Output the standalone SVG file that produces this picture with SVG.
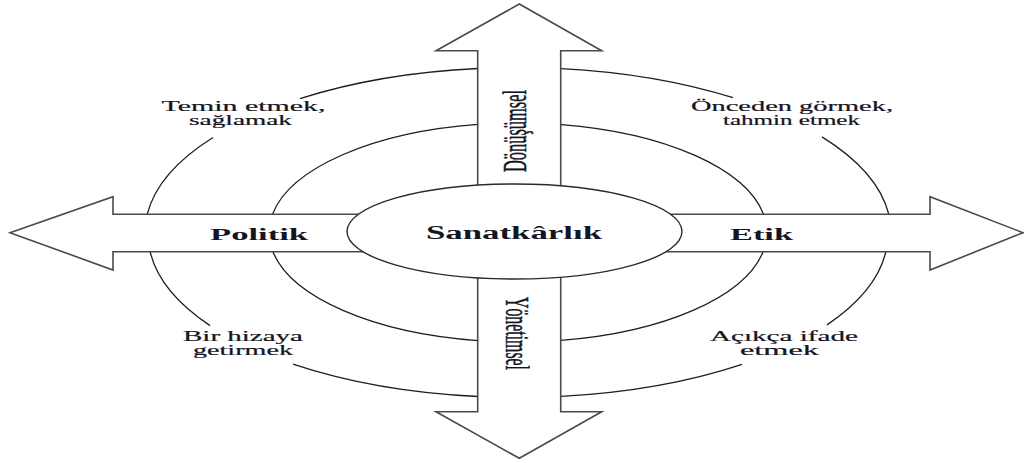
<svg xmlns="http://www.w3.org/2000/svg" width="1024" height="463" viewBox="0 0 1024 463">
<style>
.ring{fill:none;stroke:#1e1e1e;stroke-width:1.3}
.arrow{fill:#fff;stroke:#4a4a4a;stroke-width:1.6;stroke-linejoin:miter}
.core{fill:#fff;stroke:#2a2a2a;stroke-width:1.4}
.lbl{font-family:"Liberation Serif","Times New Roman",serif;font-size:14.5px;fill:#15151f;stroke:#15151f;stroke-width:0.2}
.bold{font-family:"Liberation Serif","Times New Roman",serif;font-weight:bold;fill:#15151f}
.vert{font-family:"Liberation Serif","Times New Roman",serif;font-size:34px;fill:#15151f;stroke:#15151f;stroke-width:0.5}
</style>
<rect width="1024" height="463" fill="#fff"/>
<g id="connectors">
<path class="ring" d="M478,68.5 A373,165 0 0 0 300,98.6"/>
<path class="ring" d="M213,137.5 A373,165 0 0 0 147.3,214"/>
<path class="ring" d="M561,68.6 A373,165 0 0 1 733,97.7"/>
<path class="ring" d="M822,136.9 A373,165 0 0 1 888.7,214"/>
<path class="ring" d="M150.2,252 A373,165 0 0 0 210,325.6"/>
<path class="ring" d="M293,364.1 A373,165 0 0 0 478,396.5"/>
<path class="ring" d="M561,396.4 A373,165 0 0 0 742,364.4"/>
<path class="ring" d="M827,324.9 A373,165 0 0 0 885.8,252"/>
<path class="ring" d="M478,124.4 A249,109.5 0 0 0 272.6,214"/>
<path class="ring" d="M561,124.6 A249,109.5 0 0 1 763.4,214"/>
<path class="ring" d="M273,252 A249,109.5 0 0 0 478,340.6"/>
<path class="ring" d="M561,340.4 A249,109.5 0 0 0 763,252"/>
</g>
<g id="arrow-up">
<polygon class="arrow" points="477.7,240 477.7,50.7 436,50.7 519.3,4 601.7,50.7 560.7,50.7 560.7,240"/>
</g>
<g id="arrow-down">
<polygon class="arrow" points="477.7,225 477.7,411.7 436,411.7 519.3,458.3 601.7,411.7 560.7,411.7 560.7,225"/>
</g>
<g id="arrow-left">
<polygon class="arrow" points="450,214.3 113,214.3 113,196.7 10,232.7 113,270 113,251.7 450,251.7"/>
</g>
<g id="arrow-right">
<polygon class="arrow" points="580,214.3 930,214.3 930,196.7 1023,232.7 930,270 930,251.7 580,251.7"/>
</g>
<g id="node-sanatkarlik">
<ellipse class="core" cx="514.5" cy="231.5" rx="167.5" ry="47.5"/>
<text class="bold" x="426" y="239.3" font-size="18" textLength="176" lengthAdjust="spacingAndGlyphs">Sanatkârlık</text>
</g>
<g id="node-politik">
<text class="bold" x="210" y="240" font-size="17" textLength="98" lengthAdjust="spacingAndGlyphs">Politik</text>
</g>
<g id="node-etik">
<text class="bold" x="730" y="240" font-size="17" textLength="63" lengthAdjust="spacingAndGlyphs">Etik</text>
</g>
<g id="node-donusumsel">
<text class="vert" transform="translate(526,172) rotate(-90)" x="0" y="0" textLength="82" lengthAdjust="spacingAndGlyphs">Dönüşümsel</text>
</g>
<g id="node-yonetimsel">
<text class="vert" transform="translate(506,297) rotate(90)" x="0" y="0" textLength="73" lengthAdjust="spacingAndGlyphs">Yönetimsel</text>
</g>
<g id="node-temin">
<text class="lbl" x="161.5" y="110.5" textLength="164" lengthAdjust="spacingAndGlyphs">Temin etmek,</text>
<text class="lbl" x="189" y="125" textLength="103" lengthAdjust="spacingAndGlyphs">sağlamak</text>
</g>
<g id="node-onceden">
<text class="lbl" x="691" y="110.5" textLength="202" lengthAdjust="spacingAndGlyphs">Önceden görmek,</text>
<text class="lbl" x="723" y="125" textLength="137" lengthAdjust="spacingAndGlyphs">tahmin etmek</text>
</g>
<g id="node-hizaya">
<text class="lbl" x="183" y="340.5" textLength="120" lengthAdjust="spacingAndGlyphs">Bir hizaya</text>
<text class="lbl" x="193" y="355" textLength="100" lengthAdjust="spacingAndGlyphs">getirmek</text>
</g>
<g id="node-acikca">
<text class="lbl" x="710" y="340.5" textLength="148" lengthAdjust="spacingAndGlyphs">Açıkça ifade</text>
<text class="lbl" x="740" y="355" textLength="79" lengthAdjust="spacingAndGlyphs">etmek</text>
</g>
</svg>
